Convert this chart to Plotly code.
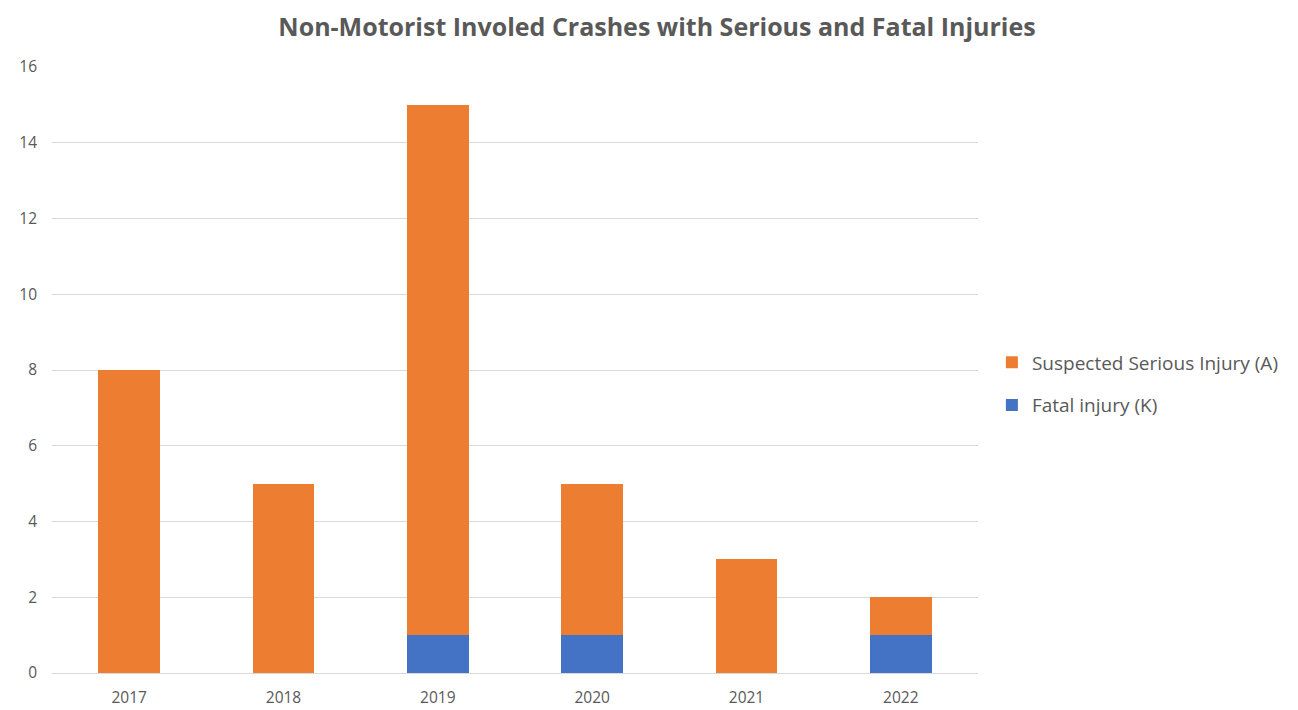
import plotly.graph_objects as go

years = ["2017", "2018", "2019", "2020", "2021", "2022"]
fatal = [0, 0, 1, 1, 0, 1]
serious = [8, 5, 14, 4, 3, 1]
y_ticks = [0, 2, 4, 6, 8, 10, 12, 14, 16]

font = "Open Sans"
gray = "#595959"

fig = go.Figure()
fig.add_trace(go.Bar(x=years, y=fatal, name="Fatal injury (K)", marker_color="#4472C4",
                     marker_line_width=0, width=0.4, legendgroup="k", legendrank=2))
fig.add_trace(go.Bar(x=years, y=serious, name="Suspected Serious Injury (A)", marker_color="#ED7D31",
                     marker_line_width=0, width=0.4, legendgroup="a", legendrank=1))

fig.update_layout(
    barmode="stack",
    width=1298, height=710,
    margin=dict(l=44, r=328, t=59, b=45),
    paper_bgcolor="white", plot_bgcolor="white",
    title=dict(text="<b>Non-Motorist Involed Crashes with Serious and Fatal Injuries</b>",
               x=0.5, xanchor="center", y=0.973, yanchor="middle",
               font=dict(family=font, size=25, color=gray)),
    font=dict(family=font, size=15, color=gray),
    legend=dict(x=1.015, xanchor="left", y=0.477, yanchor="middle",
                traceorder="grouped", font=dict(size=19, color=gray),
                itemsizing="constant", tracegroupgap=15, itemwidth=30),
    xaxis=dict(showgrid=False, showline=True, linecolor="#d9d9d9", linewidth=1,
               ticks="", tickfont=dict(size=15.5, color=gray), ticklabelstandoff=10,
               automargin=False),
    yaxis=dict(range=[0, 16], tickvals=y_ticks, showgrid=True, gridcolor="#d9d9d9",
               gridwidth=1, zeroline=False, ticks="", ticklen=0,
               tickfont=dict(size=15.5, color=gray), ticklabelstandoff=14),
)
fig.write_html("out.html")
